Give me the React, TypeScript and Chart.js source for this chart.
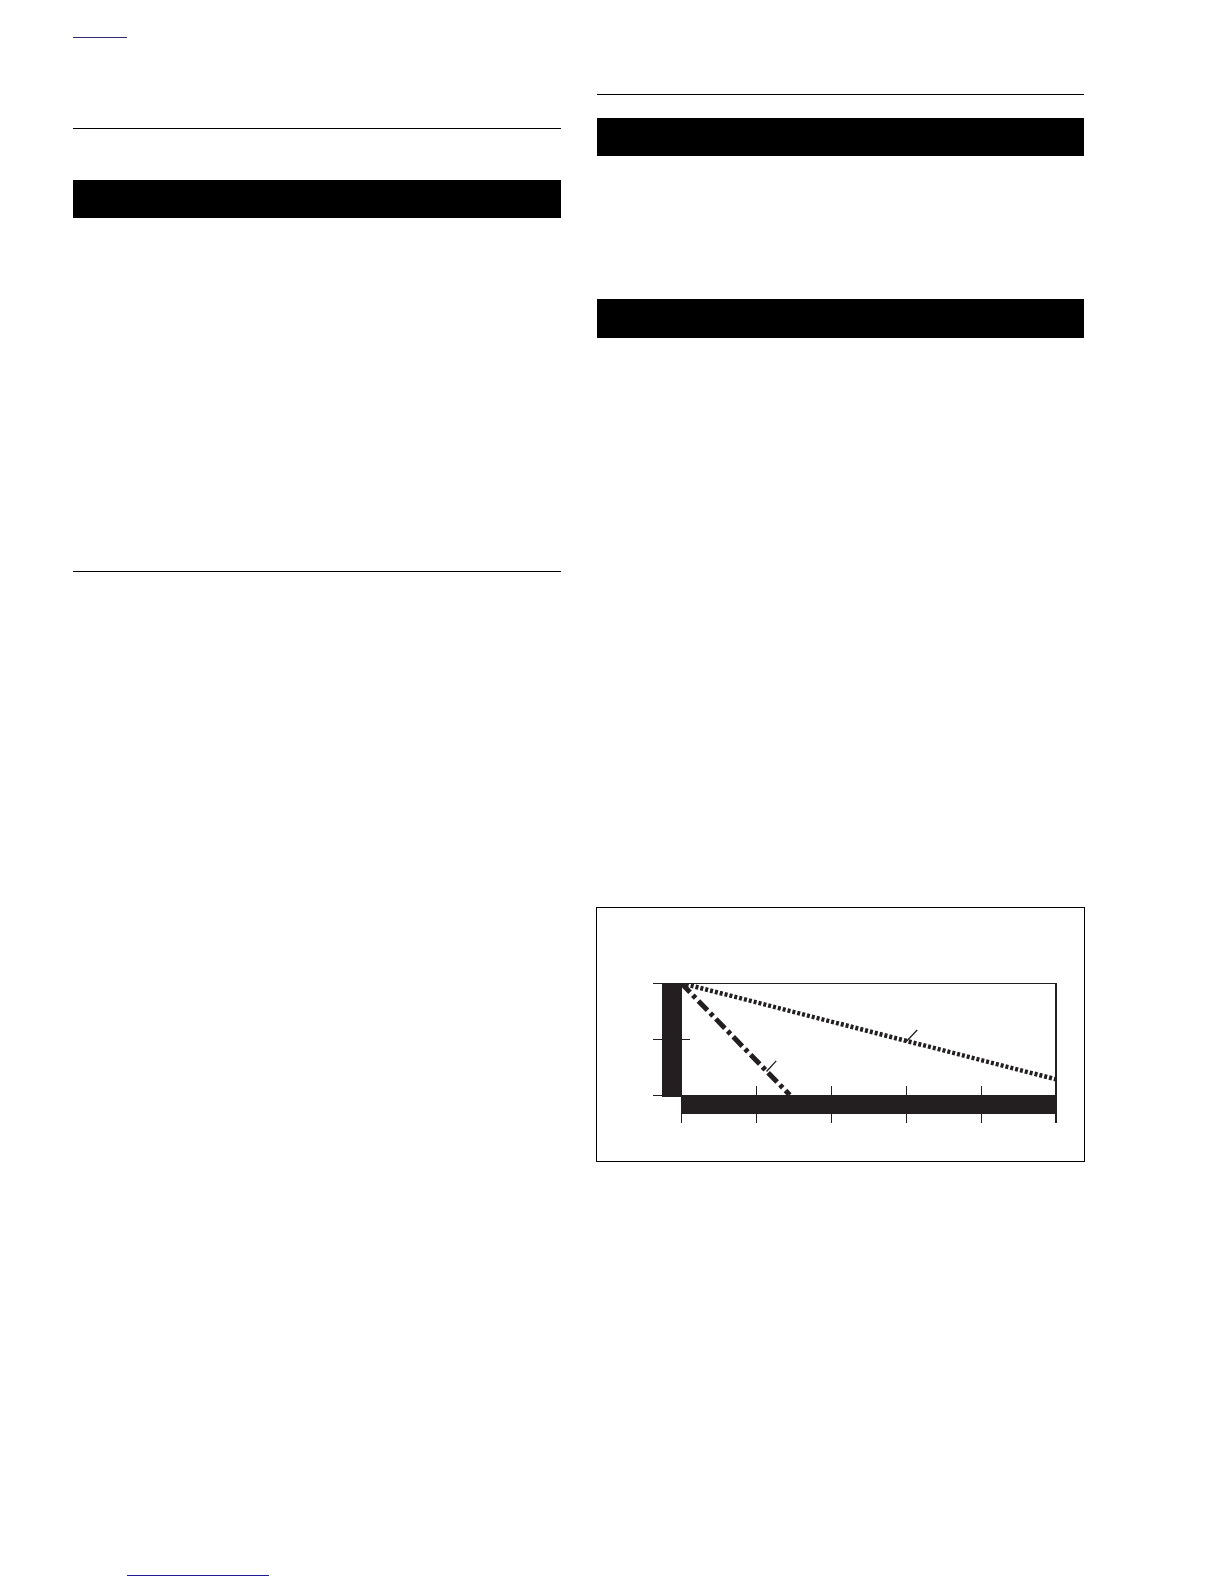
import { useEffect, useRef } from 'react';
import { Chart, registerables } from 'chart.js';

Chart.register(...registerables);

// axis ticks (values are unlabeled in the reference)
const xTicks = [0, 1, 2, 3, 4, 5];
const yTicks = [0, 1, 2];

// dotted curve
const dottedX = [0, 5];
const dottedY = [2, 0.28];

// dash-dot curve
const dashDotX = [0, 1.45];
const dashDotY = [2, 0];

// short label leaders on each curve
const leaderDottedX = [3.0, 3.15];
const leaderDottedY = [0.95, 1.16];
const leaderDashDotX = [1.14, 1.27];
const leaderDashDotY = [0.42, 0.61];

const ink = '#231f20';

const toPoints = (xs: number[], ys: number[]) => xs.map((x, i) => ({ x, y: ys[i] }));

const axisFurniture = {
  id: 'axisFurniture',
  afterDatasetsDraw(chart: Chart) {
    const { ctx, chartArea } = chart;
    const { left, right, top, bottom } = chartArea;
    const xs = chart.scales.x;
    const ys = chart.scales.y;
    ctx.save();
    ctx.fillStyle = ink;
    // thick left bar and bottom bar
    ctx.fillRect(left - 19, top, 20, bottom - top + 2);
    ctx.fillRect(left, bottom, right - left + 1, 19);

    ctx.strokeStyle = ink;
    ctx.lineWidth = 1;
    // top frame line (merges with top y tick)
    ctx.beginPath();
    ctx.moveTo(left - 28, top + 0.5);
    ctx.lineTo(right, top + 0.5);
    ctx.stroke();

    // y ticks
    yTicks.forEach((v) => {
      const py = Math.round(ys.getPixelForValue(v)) + 0.5;
      const inner = v !== yTicks[0] && v !== yTicks[yTicks.length - 1];
      ctx.beginPath();
      ctx.moveTo(left - 28, py);
      ctx.lineTo(inner ? left + 9 : left - 19, py);
      ctx.stroke();
    });

    // x ticks
    xTicks.forEach((v, i) => {
      const px = Math.round(xs.getPixelForValue(v)) + 0.5;
      ctx.beginPath();
      ctx.moveTo(px, i === 0 ? bottom : bottom - 9);
      ctx.lineTo(px, bottom + 28);
      ctx.stroke();
    });

    // right frame
    ctx.lineWidth = 2;
    ctx.beginPath();
    ctx.moveTo(right, top);
    ctx.lineTo(right, bottom + 28);
    ctx.stroke();
    ctx.restore();
  },
};

function DeratingChart() {
  const canvasRef = useRef<HTMLCanvasElement | null>(null);

  useEffect(() => {
    const canvas = canvasRef.current;
    if (!canvas) return;
    const chart = new Chart(canvas, {
      type: 'line',
      data: {
        datasets: [
          {
            data: toPoints(dottedX, dottedY),
            borderColor: ink,
            borderWidth: 4.5,
            borderDash: [3, 2],
            borderCapStyle: 'butt',
            pointRadius: 0,
          },
          {
            data: toPoints(dashDotX, dashDotY),
            borderColor: ink,
            borderWidth: 5,
            borderDash: [13, 4, 4, 4],
            borderCapStyle: 'butt',
            pointRadius: 0,
          },
          {
            data: toPoints(leaderDottedX, leaderDottedY),
            borderColor: ink,
            borderWidth: 1.3,
            pointRadius: 0,
          },
          {
            data: toPoints(leaderDashDotX, leaderDashDotY),
            borderColor: ink,
            borderWidth: 1.3,
            pointRadius: 0,
          },
        ],
      },
      options: {
        responsive: false,
        animation: false,
        layout: { padding: { left: 84, right: 28, top: 75, bottom: 66 } },
        plugins: { legend: { display: false }, tooltip: { enabled: false } },
        scales: {
          x: { type: 'linear', min: 0, max: 5, display: false },
          y: { type: 'linear', min: 0, max: 2, display: false },
        },
      },
      plugins: [axisFurniture],
    });
    return () => chart.destroy();
  }, []);

  return <canvas ref={canvasRef} width={487} height={253} style={{ display: 'block' }} />;
}

const abs = (left: number, top: number, width: number, height: number, background: string) => ({
  position: 'absolute' as const,
  left,
  top,
  width,
  height,
  background,
});

export default function App() {
  return (
    <div style={{ position: 'absolute', left: 0, top: 0, width: 1224, height: 1584 }}>
      <div style={abs(73, 37, 54, 1, '#2e2a6e')} />
      <div style={abs(73, 128, 488, 1, '#000')} />
      <div style={abs(73, 180, 488, 38, '#000')} />
      <div style={abs(73, 571, 488, 1, '#000')} />
      <div style={abs(597, 94, 487, 1, '#000')} />
      <div style={abs(597, 118, 487, 38, '#000')} />
      <div style={abs(597, 299, 487, 39, '#000')} />
      <div
        style={{
          position: 'absolute',
          left: 596,
          top: 907,
          width: 489,
          height: 255,
          border: '1px solid #000',
          boxSizing: 'border-box',
        }}
      >
        <DeratingChart />
      </div>
      <div style={abs(127, 1575, 142, 1, '#1c1c94')} />
    </div>
  );
}
